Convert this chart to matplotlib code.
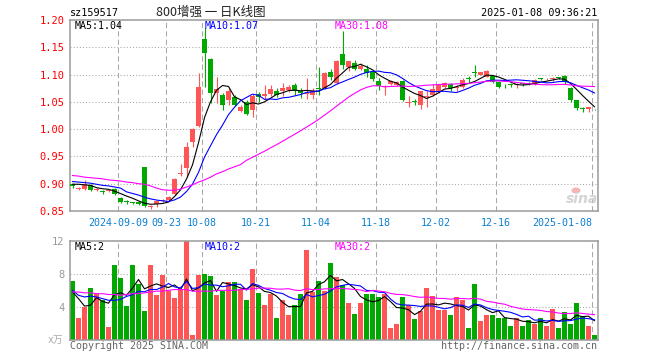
import matplotlib
matplotlib.use('Agg')
import matplotlib.pyplot as plt
from matplotlib.patches import Ellipse
import numpy as np
import pandas as pd

code_label = 'sz159517'
title_text = '800增强 一 日K线图'
timestamp = '2025-01-08 09:36:21'

opens = [0.899, 0.891, 0.890, 0.898, 0.889, 0.886, 0.886, 0.890, 0.874, 0.868,
         0.866, 0.866, 0.931, 0.857, 0.863, 0.868, 0.870, 0.882, 0.918, 0.928,
         0.977, 1.006, 1.166, 1.129, 1.066, 1.063, 1.053, 1.058, 1.034, 1.049,
         1.035, 1.064, 1.061, 1.064, 1.070, 1.069, 1.072, 1.081, 1.070, 1.064,
         1.063, 1.075, 1.075, 1.105, 1.084, 1.137, 1.113, 1.122, 1.111, 1.111,
         1.105, 1.088, 1.078, 1.083, 1.081, 1.089, 1.048, 1.051, 1.044, 1.059,
         1.063, 1.070, 1.078, 1.082, 1.075, 1.078, 1.093, 1.103, 1.100, 1.096,
         1.098, 1.086, 1.081, 1.082, 1.080, 1.083, 1.084, 1.082, 1.093, 1.091,
         1.092, 1.095, 1.098, 1.076, 1.053, 1.038, 1.037, 1.037]
highs = [0.901, 0.894, 0.906, 0.899, 0.892, 0.888, 0.889, 0.892, 0.876, 0.871,
         0.867, 0.868, 0.931, 0.861, 0.870, 0.872, 0.878, 0.911, 0.936, 0.977,
         1.003, 1.102, 1.186, 1.130, 1.096, 1.067, 1.075, 1.062, 1.044, 1.053,
         1.064, 1.068, 1.080, 1.080, 1.075, 1.084, 1.080, 1.084, 1.075, 1.093,
         1.075, 1.114, 1.105, 1.111, 1.126, 1.179, 1.124, 1.127, 1.121, 1.117,
         1.108, 1.093, 1.081, 1.090, 1.089, 1.090, 1.060, 1.056, 1.070, 1.069,
         1.082, 1.082, 1.087, 1.084, 1.081, 1.093, 1.098, 1.118, 1.105, 1.108,
         1.099, 1.087, 1.083, 1.084, 1.085, 1.085, 1.086, 1.091, 1.094, 1.094,
         1.096, 1.096, 1.099, 1.077, 1.054, 1.041, 1.041, 1.037]
lows = [0.893, 0.889, 0.889, 0.887, 0.887, 0.882, 0.885, 0.879, 0.864, 0.863,
        0.863, 0.861, 0.857, 0.853, 0.857, 0.866, 0.869, 0.880, 0.915, 0.913,
        0.968, 1.004, 1.078, 1.047, 1.048, 1.035, 1.044, 1.042, 1.032, 1.026,
        1.023, 1.050, 1.054, 1.060, 1.058, 1.060, 1.068, 1.063, 1.057, 1.056,
        1.056, 1.063, 1.073, 1.090, 1.082, 1.111, 1.106, 1.108, 1.109, 1.096,
        1.089, 1.072, 1.063, 1.080, 1.079, 1.051, 1.041, 1.045, 1.037, 1.041,
        1.061, 1.067, 1.075, 1.070, 1.069, 1.075, 1.086, 1.096, 1.099, 1.095,
        1.084, 1.075, 1.076, 1.078, 1.075, 1.079, 1.081, 1.080, 1.090, 1.090,
        1.088, 1.092, 1.082, 1.049, 1.035, 1.032, 1.032, 1.035]
closes = [0.895, 0.892, 0.898, 0.889, 0.890, 0.885, 0.887, 0.881, 0.867, 0.867,
          0.865, 0.863, 0.859, 0.858, 0.869, 0.870, 0.876, 0.909, 0.920, 0.968,
          1.000, 1.078, 1.139, 1.066, 1.073, 1.044, 1.069, 1.044, 1.040, 1.028,
          1.060, 1.058, 1.064, 1.073, 1.063, 1.075, 1.078, 1.069, 1.066, 1.067,
          1.070, 1.074, 1.102, 1.096, 1.125, 1.118, 1.124, 1.111, 1.116, 1.102,
          1.091, 1.079, 1.079, 1.088, 1.087, 1.053, 1.049, 1.050, 1.069, 1.060,
          1.074, 1.080, 1.084, 1.075, 1.077, 1.090, 1.092, 1.102, 1.104, 1.107,
          1.087, 1.078, 1.080, 1.081, 1.083, 1.082, 1.083, 1.090, 1.092, 1.092,
          1.093, 1.094, 1.087, 1.053, 1.038, 1.037, 1.041, 1.036]
volumes = [7.08, 2.68, 4.00, 6.24, 5.60, 4.80, 1.60, 9.12, 7.44, 4.08,
           9.12, 6.80, 3.48, 9.12, 5.40, 7.80, 5.92, 5.04, 6.20, 11.92,
           0.60, 7.80, 7.92, 7.68, 5.40, 5.92, 6.96, 6.96, 6.20, 4.80,
           8.52, 5.64, 4.20, 5.52, 2.64, 4.80, 3.00, 4.20, 5.52, 10.92,
           5.76, 7.08, 5.92, 9.36, 7.60, 6.60, 4.48, 3.12, 4.48, 5.52,
           5.52, 5.20, 5.52, 1.48, 1.92, 5.20, 4.20, 2.56, 3.48, 6.24,
           5.28, 3.64, 3.64, 3.00, 5.20, 4.80, 1.48, 6.72, 2.32, 3.00,
           3.00, 2.60, 2.64, 1.72, 2.64, 1.72, 2.40, 1.92, 2.64, 1.68,
           3.72, 1.44, 3.36, 1.92, 4.44, 2.96, 1.72, 0.60]

# moving-average values before a full window is available
price_ma5_head = [0.899, 0.899, 0.898, 0.897]
price_ma10_head = [0.904, 0.903, 0.902, 0.901, 0.899, 0.897, 0.896, 0.894, 0.892]
price_ma30_head = [0.915, 0.914, 0.912, 0.911, 0.910, 0.909, 0.907, 0.906, 0.905, 0.903,
                   0.902, 0.900, 0.899, 0.896, 0.892, 0.889, 0.888, 0.888, 0.890, 0.894,
                   0.898, 0.903, 0.907, 0.912, 0.918, 0.922, 0.927, 0.931, 0.935]
vol_ma5_head = [5.8, 5.0, 4.1, 4.2]
vol_ma10_head = [6.0, 5.4, 5.2, 5.3, 5.2, 5.0, 4.8, 4.8, 4.9]
vol_ma30_head = [5.8, 5.8, 5.7, 5.7, 5.6, 5.6, 5.5, 5.5, 5.4, 5.5,
                 5.6, 5.6, 5.7, 5.8, 5.9, 5.9, 6.0, 6.1, 6.1, 6.1,
                 5.9, 5.9, 5.9, 5.9, 6.0, 6.0, 6.0, 6.0, 6.1]
vol_ma_labels = [2, 2, 2]

tick_idx = [8, 16, 22, 31, 41, 51, 61, 71, 87]
tick_labels = ['2024-09-09', '09-23', '10-08', '10-21', '11-04', '11-18',
               '12-02', '12-16', '2025-01-08']
price_ticks = [0.85, 0.90, 0.95, 1.00, 1.05, 1.10, 1.15, 1.20]
vol_ticks = [4, 8, 12]

# ---------------------------------------------------------------
W, H = 660, 360
RED = '#ff5555'
GREEN = '#00a800'
GRID = '#a8a8a8'
MONO = 'DejaVu Sans Mono'
CJK = ['Noto Sans CJK SC', 'DejaVu Sans']

fig = plt.figure(figsize=(W / 100, H / 100), dpi=100)
fig.patch.set_facecolor('white')


def px_axes(l, t, r, b):
    return fig.add_axes([l / W, 1 - b / H, (r - l) / W, (b - t) / H])


def fx(x):
    return x / W


def fy(y):
    return 1 - y / H


ax = px_axes(70, 20, 598, 211)
ax2 = px_axes(70, 240.7, 598, 340)

n = len(closes)
o = np.array(opens)
c = np.array(closes)
hi = np.array(highs)
lo = np.array(lows)
v = np.array(volumes)
idx = np.arange(n)
bw = 5 / 6
xc = idx + 2.5 / 6
up = c >= o
colors = np.where(up, RED, GREEN)


def moving(values, win, head):
    m = pd.Series(values).rolling(win).mean().to_numpy()
    m[:len(head)] = head
    return m


pma5 = moving(c, 5, price_ma5_head)
pma10 = moving(c, 10, price_ma10_head)
pma30 = moving(c, 30, price_ma30_head)
vma5 = moving(v, 5, vol_ma5_head)
vma10 = moving(v, 10, vol_ma10_head)
vma30 = moving(v, 30, vol_ma30_head)

# ---- price panel ----
ax.set_xlim(0, n)
ax.set_ylim(0.85, 1.20)
for x in tick_idx:
    ax.axvline(x, color=GRID, lw=0.75, linestyle=(0, (5, 3)), zorder=0)
for y in price_ticks[1:-1]:
    ax.axhline(y, color=GRID, lw=0.75, linestyle=(0, (1, 2)), zorder=0)

ax.vlines(xc, lo, hi, colors=colors, lw=0.8, zorder=2)
body_bottom = np.minimum(o, c)
body_h = np.maximum(np.abs(c - o), 0.0018)
ax.bar(idx, body_h, bottom=body_bottom, width=bw, align='edge',
       color=colors, linewidth=0, zorder=3)

ax.plot(xc, pma5, color='black', lw=0.8, zorder=4)
ax.plot(xc, pma10, color='#0000ff', lw=0.8, zorder=4)
ax.plot(xc, pma30, color='#ff00ff', lw=0.8, zorder=4)

ax.set_yticks(price_ticks)
ax.set_yticklabels(['%.2f' % t for t in price_ticks], color='#ff0000',
                   fontsize=7.5, family=MONO)
ax.set_xticks(tick_idx)
ax.set_xticklabels(tick_labels, color='#0a7fd0', fontsize=7.2, family=MONO)
ax.get_xticklabels()[-1].set_horizontalalignment('right')
ax.tick_params(length=0, pad=4)
ax.tick_params(axis='x', pad=5)

ax.text(5 / 528, 1 - 6 / 191, 'MA5:%.2f' % pma5[-1], transform=ax.transAxes,
        color='black', fontsize=7.2, family=MONO, va='center', ha='left')
ax.text(135 / 528, 1 - 6 / 191, 'MA10:%.2f' % pma10[-1], transform=ax.transAxes,
        color='#0000ff', fontsize=7.2, family=MONO, va='center', ha='left')
ax.text(265 / 528, 1 - 6 / 191, 'MA30:%.2f' % pma30[-1], transform=ax.transAxes,
        color='#ff00ff', fontsize=7.2, family=MONO, va='center', ha='left')

# ---- volume panel ----
ax2.set_xlim(0, n)
ax2.set_ylim(0, 12)
for x in tick_idx:
    ax2.axvline(x, color=GRID, lw=0.75, linestyle=(0, (5, 3)), zorder=0)
for y in vol_ticks[:-1]:
    ax2.axhline(y, color=GRID, lw=0.75, linestyle=(0, (1, 2)), zorder=0)
ax2.bar(idx, v, width=bw, align='edge', color=colors, linewidth=0, zorder=2)
ax2.plot(xc, vma5, color='black', lw=0.8, zorder=4)
ax2.plot(xc, vma10, color='#0000ff', lw=0.8, zorder=4)
ax2.plot(xc, vma30, color='#ff00ff', lw=0.8, zorder=4)
ax2.set_yticks(vol_ticks)
ax2.set_yticklabels([str(t) for t in vol_ticks], color='#999999',
                    fontsize=7.5, family=MONO)
ax2.set_xticks([])
ax2.tick_params(length=0, pad=4)

ax2.text(5 / 528, 1 - 6 / 99.3, 'MA5:%d' % vol_ma_labels[0], transform=ax2.transAxes,
         color='black', fontsize=7.2, family=MONO, va='center', ha='left')
ax2.text(135 / 528, 1 - 6 / 99.3, 'MA10:%d' % vol_ma_labels[1], transform=ax2.transAxes,
         color='#0000ff', fontsize=7.2, family=MONO, va='center', ha='left')
ax2.text(265 / 528, 1 - 6 / 99.3, 'MA30:%d' % vol_ma_labels[2], transform=ax2.transAxes,
         color='#ff00ff', fontsize=7.2, family=MONO, va='center', ha='left')

for a in (ax, ax2):
    for s in a.spines.values():
        s.set_color('#9a9a9a')
        s.set_linewidth(1.1)

# ---- figure texts ----
fig.text(fx(70), fy(13), code_label, fontsize=7.3, family=MONO, color='black',
         ha='left', va='center')
fig.text(fx(211), fy(12.5), title_text, fontsize=9, family=CJK, color='#222222',
         ha='center', va='center')
fig.text(fx(597), fy(12.5), timestamp, fontsize=7.3, family=MONO, color='black',
         ha='right', va='center')
fig.text(fx(63), fy(340), 'x万', fontsize=7, family=['DejaVu Sans Mono', 'Noto Sans CJK SC'],
         color='#aaaaaa', ha='right', va='center')
fig.text(fx(70), fy(346), 'Copyright 2025 SINA.COM', fontsize=7.2, family=MONO,
         color='#666666', ha='left', va='center')
fig.text(fx(597), fy(346), 'http://finance.sina.com.cn', fontsize=7.2, family=MONO,
         color='#666666', ha='right', va='center')

# sina watermark
fig.text(fx(582), fy(199), 'sina', fontsize=10, family='DejaVu Sans', style='italic',
         weight='bold', color='#d4d4d4', ha='center', va='center')
fig.add_artist(Ellipse((fx(576), fy(190.5)), 9 / W, 6 / H, transform=fig.transFigure,
                       facecolor='#f5b5b5', edgecolor='none'))

fig.savefig('out.png', dpi=100, facecolor='white')
